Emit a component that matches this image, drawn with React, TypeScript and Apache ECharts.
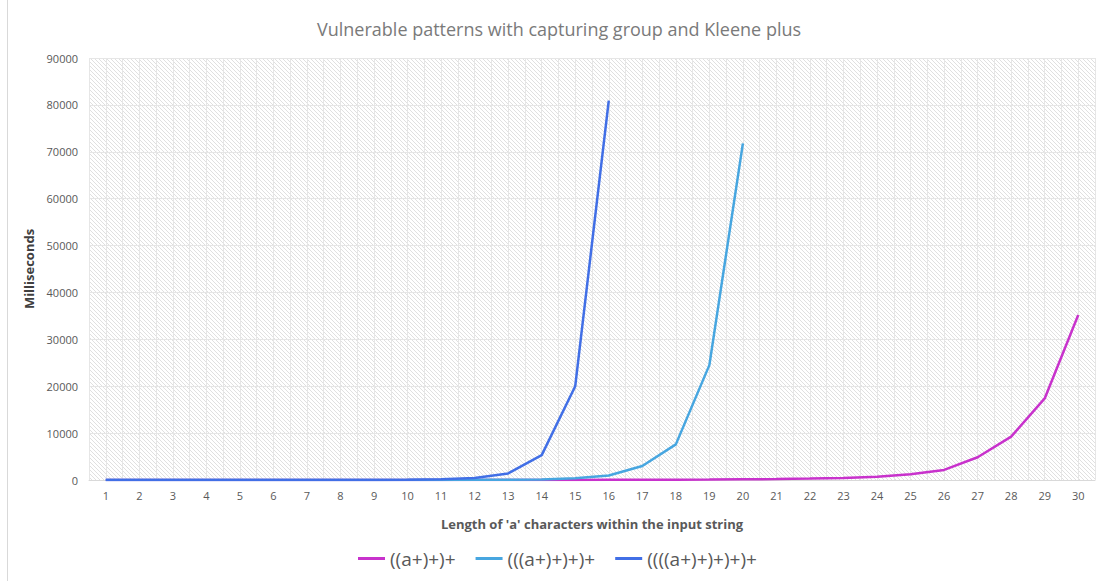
import React, { useEffect, useRef } from "react";
import * as echarts from "echarts";

const categories = Array.from({ length: 30 }, (_, i) => i + 1);
const seriesNames = ["((a+)+)+", "(((a+)+)+)+", "((((a+)+)+)+)+"];
const seriesColors = ["#c832cc", "#47a6e0", "#416fe6"];
const s1 = [0, 0, 0, 0, 0, 0, 0, 1, 1, 2, 3, 5, 8, 12, 20, 30, 45, 70, 100, 150, 200, 300, 450, 700, 1250, 2150, 4850, 9250, 17400, 35200];
const s2 = [0, 0, 0, 0, 0, 1, 1, 2, 4, 8, 15, 30, 60, 130, 350, 950, 3000, 7600, 24500, 71800];
const s3 = [0, 0, 0, 0, 0, 1, 2, 5, 10, 50, 150, 450, 1400, 5300, 20000, 80900];
const yTicks = { min: 0, max: 90000, interval: 10000 };

function makeHatch() {
  const c = document.createElement("canvas");
  c.width = 4;
  c.height = 4;
  const ctx = c.getContext("2d")!;
  ctx.fillStyle = "#ffffff";
  ctx.fillRect(0, 0, 4, 4);
  ctx.strokeStyle = "#e0e0e0";
  ctx.lineWidth = 1;
  ctx.beginPath();
  ctx.moveTo(-1, -1);
  ctx.lineTo(5, 5);
  ctx.moveTo(3, -1);
  ctx.lineTo(5, 1);
  ctx.moveTo(-1, 3);
  ctx.lineTo(1, 5);
  ctx.stroke();
  return c;
}

export default function App() {
  const ref = useRef<HTMLDivElement>(null);
  useEffect(() => {
    if (!ref.current) return;
    const chart = echarts.init(ref.current, undefined, { renderer: "svg" });
    const all = [s1, s2, s3];
    const font = "'Open Sans', 'Liberation Sans', sans-serif";
    chart.setOption({
      animation: false,
      backgroundColor: "#ffffff",
      textStyle: { fontFamily: font },
      title: {
        text: "Vulnerable patterns with capturing group and Kleene plus",
        left: 312,
        top: 15,
        textStyle: { fontFamily: font, fontSize: 18, fontWeight: "normal", color: "#7a7a7a" },
      },
      legend: {
        bottom: 8,
        left: 353,
        itemWidth: 27,
        itemHeight: 3,
        itemGap: 20,
        icon: "rect",
        textStyle: { fontFamily: font, fontSize: 19, color: "#595959" },
        data: seriesNames,
      },
      grid: {
        left: 89,
        right: 11,
        top: 58,
        bottom: 101,
        show: true,
        borderWidth: 0,
        backgroundColor: { image: makeHatch(), repeat: "repeat" } as any,
      },
      xAxis: {
        type: "value",
        min: 0.5,
        max: 30.5,
        interval: 0.5,
        name: "Length of 'a' characters within the input string",
        nameLocation: "middle",
        nameGap: 37,
        nameTextStyle: { fontFamily: font, fontSize: 13, fontWeight: "bold", color: "#595959" },
        axisLine: { show: true, lineStyle: { color: "#d9d9d9", width: 1 } },
        axisTick: { show: false },
        axisLabel: {
          fontSize: 11,
          color: "#595959",
          margin: 10,
          showMinLabel: false,
          showMaxLabel: false,
          formatter: (v: number) => (Number.isInteger(v) ? String(v) : ""),
        },
        splitLine: { show: true, lineStyle: { color: "#e6e6e6", width: 1 } },
      },
      yAxis: {
        type: "value",
        min: yTicks.min,
        max: yTicks.max,
        interval: yTicks.interval,
        name: "Milliseconds",
        nameLocation: "middle",
        nameGap: 47,
        nameTextStyle: { fontFamily: font, fontSize: 13, fontWeight: "bold", color: "#404040" },
        axisLine: { show: false },
        axisTick: { show: false },
        axisLabel: { fontSize: 11, color: "#595959", margin: 11, formatter: (v: number) => String(v) },
        splitLine: { show: true, lineStyle: { color: "#e6e6e6", width: 1 } },
      },
      series: seriesNames.map((name, i) => ({
        name,
        type: "line",
        showSymbol: false,
        symbol: "none",
        color: seriesColors[i],
        lineStyle: { width: 2.5, color: seriesColors[i] },
        data: all[i].map((v, j) => [categories[j], v]),
      })),
      graphic: [
        {
          type: "rect",
          shape: { x: 7.5, y: -5, width: 1200, height: 600 },
          style: { fill: "none", stroke: "#d9d9d9", lineWidth: 1 },
          silent: true,
        },
      ],
    });
    return () => chart.dispose();
  }, []);
  return <div ref={ref} style={{ position: "fixed", left: 0, top: 0, width: 1106, height: 581 }} />;
}
